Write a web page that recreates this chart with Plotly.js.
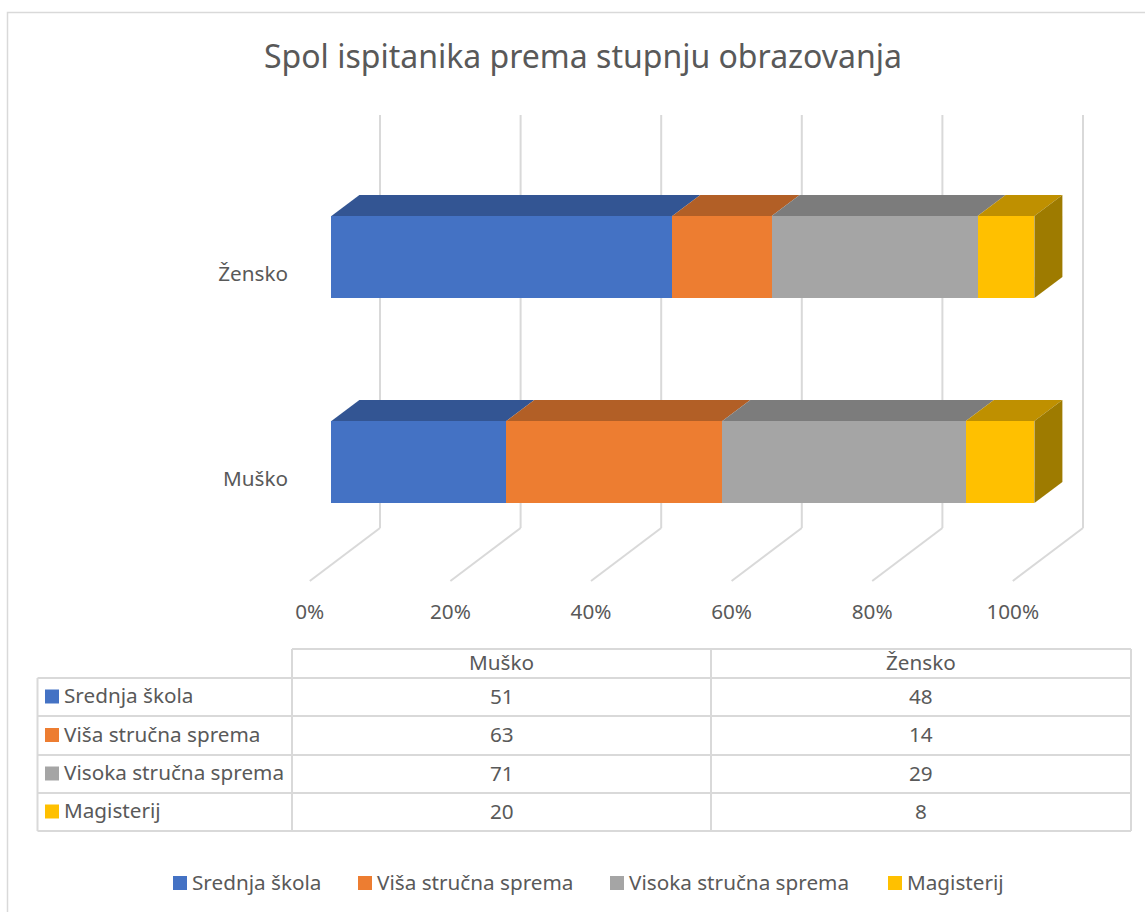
<!DOCTYPE html>
<html>
<head>
<meta charset="utf-8">
<script src="https://cdn.plot.ly/plotly-3.0.1.min.js"></script>
<style>html,body{margin:0;padding:0;background:#fff;overflow:hidden}</style>
</head>
<body>
<div id="chart" style="width:1145px;height:912px"></div>
<script>
const categories = ['Muško', 'Žensko'];
const seriesNames = ['Srednja škola', 'Viša stručna sprema', 'Visoka stručna sprema', 'Magisterij'];
const srednja = [51, 48];
const visa = [63, 14];
const visoka = [71, 29];
const magisterij = [20, 8];
const xTicks = [0, 20, 40, 60, 80, 100];
const frontColors = ['#4472C4', '#ED7D31', '#A5A5A5', '#FFC000'];
const topColors = ['#335593', '#B25F26', '#7C7C7C', '#BF9000'];
const sideColor = '#9E7B00';

const W = 1145, H = 912;
const FONT = '"Noto Sans", "Open Sans", sans-serif';
const TXT = '#595959', GRID = '#D9D9D9';
const px = v => v / W, py = v => 1 - v / H;
const xScale = 7.03, yScale = 205;
const x0Px = 331.4, y0Px = 462;
const barH = 82 / yScale;
const dX = 28 / xScale, dY = 21 / yScale;
const wallDx = 48.6 / xScale, floorDx = -21.6 / xScale;
const labelDy = -16.5 / yScale;
const wallTop = (y0Px - 115) / yScale, wallBot = (y0Px - 528) / yScale, floorBot = (y0Px - 581) / yScale;

const series = [srednja, visa, visoka, magisterij];
const totals = categories.map((_, i) => series.reduce((s, a) => s + a[i], 0));
const traces = [];

series.forEach((vals, k) => traces.push({
  type: 'bar', orientation: 'h', name: seriesNames[k], x: vals, y: [0, 1], width: barH,
  marker: {color: frontColors[k], line: {width: 0}}, showlegend: false, hoverinfo: 'x+name'
}));

categories.forEach((_, i) => {
  let cum = 0;
  const top = i + barH / 2, bot = i - barH / 2;
  series.forEach((vals, k) => {
    const a = cum, b = cum + vals[i] / totals[i] * 100;
    cum = b;
    traces.push({
      type: 'scatter', mode: 'lines', fill: 'toself', fillcolor: topColors[k], line: {width: 0},
      x: [a, b, b + dX, a + dX, a], y: [top, top, top + dY, top + dY, top],
      showlegend: false, hoverinfo: 'skip'
    });
  });
  traces.push({
    type: 'scatter', mode: 'lines', fill: 'toself', fillcolor: sideColor, line: {width: 0},
    x: [100, 100 + dX, 100 + dX, 100, 100], y: [top, top + dY, bot + dY, bot, top],
    showlegend: false, hoverinfo: 'skip'
  });
});

const shapes = [], annotations = [];
const line = {color: GRID, width: 2};
// chart frame
shapes.push({type: 'rect', xref: 'paper', yref: 'paper', x0: px(7.5), x1: px(1160), y0: py(12.5), y1: py(930),
  line: {color: GRID, width: 1.5}, fillcolor: 'rgba(0,0,0,0)', layer: 'below'});
// walls and floor gridlines
xTicks.forEach(t => {
  shapes.push({type: 'line', xref: 'x', yref: 'y', layer: 'below', line,
    x0: t + wallDx, x1: t + wallDx, y0: wallTop, y1: wallBot});
  shapes.push({type: 'line', xref: 'x', yref: 'y', layer: 'below', line,
    x0: t + wallDx, x1: t + floorDx, y0: wallBot, y1: floorBot});
});

// data table
const tX = [37.5, 292, 711, 1131];
const tY = [649, 678, 716, 755, 793, 831];
const hl = (x0, x1, y) => shapes.push({type: 'line', xref: 'paper', yref: 'paper', x0: px(x0), x1: px(x1), y0: py(y), y1: py(y), line});
const vl = (x, y0, y1) => shapes.push({type: 'line', xref: 'paper', yref: 'paper', x0: px(x), x1: px(x), y0: py(y0), y1: py(y1), line});
hl(tX[1], tX[3], tY[0]);
tY.slice(1).forEach(y => hl(tX[0], tX[3], y));
vl(tX[0], tY[1], tY[5]);
vl(tX[1], tY[0], tY[5]);
vl(tX[2], tY[0], tY[5]);
vl(tX[3], tY[0], tY[5]);

const label = (text, x, y, anchor, size) => annotations.push({
  text, xref: 'paper', yref: 'paper', x: px(x), y: py(y), xanchor: anchor, yanchor: 'middle',
  showarrow: false, font: {family: FONT, size, color: TXT}, borderpad: 0, borderwidth: 0
});
const swatch = (x, y, c) => shapes.push({type: 'rect', xref: 'paper', yref: 'paper',
  x0: px(x), x1: px(x + 14), y0: py(y - 7), y1: py(y + 7), fillcolor: c, line: {width: 0}});

const tableSize = 20.7;
categories.forEach((c, i) => label(c, (tX[i + 1] + tX[i + 2]) / 2, 662, 'center', tableSize));
series.forEach((vals, k) => {
  const yc = (tY[k + 1] + tY[k + 2]) / 2 - 0.5;
  swatch(45, yc, frontColors[k]);
  label(seriesNames[k], 64, yc - 1.5, 'left', tableSize);
  vals.forEach((v, i) => label(String(v), (tX[i + 1] + tX[i + 2]) / 2, yc - 1, 'center', tableSize));
});

// bottom legend
const legendX = [173, 358, 610, 888];
seriesNames.forEach((n, k) => {
  swatch(legendX[k], 883, frontColors[k]);
  label(n, legendX[k] + 19, 882, 'left', tableSize);
});

const layout = {
  width: W, height: H, margin: {l: 0, r: 0, t: 0, b: 0}, paper_bgcolor: '#fff', plot_bgcolor: 'rgba(0,0,0,0)',
  barmode: 'stack', barnorm: 'percent', showlegend: false,
  title: {text: 'Spol ispitanika prema stupnju obrazovanja', x: 583 / W, xanchor: 'center', y: py(57), yanchor: 'middle',
    font: {family: FONT, size: 32, color: TXT}},
  font: {family: FONT, color: TXT},
  xaxis: {range: [-x0Px / xScale, (W - x0Px) / xScale], showgrid: false, zeroline: false, showline: false,
    tickmode: 'array', tickvals: xTicks.map(t => t + floorDx), ticktext: xTicks.map(t => t + '%'),
    ticks: '', anchor: 'free', position: py(597), tickfont: {family: FONT, size: tableSize, color: TXT}, fixedrange: true},
  yaxis: {range: [(y0Px - H) / yScale, y0Px / yScale], showgrid: false, zeroline: false, showline: false,
    tickmode: 'array', tickvals: [0 + labelDy, 1 + labelDy], ticktext: categories, ticks: '',
    anchor: 'free', position: px(288), tickfont: {family: FONT, size: tableSize, color: TXT}, fixedrange: true},
  shapes, annotations
};
Plotly.newPlot('chart', traces, layout, {displayModeBar: false, staticPlot: true});
</script>
</body>
</html>
